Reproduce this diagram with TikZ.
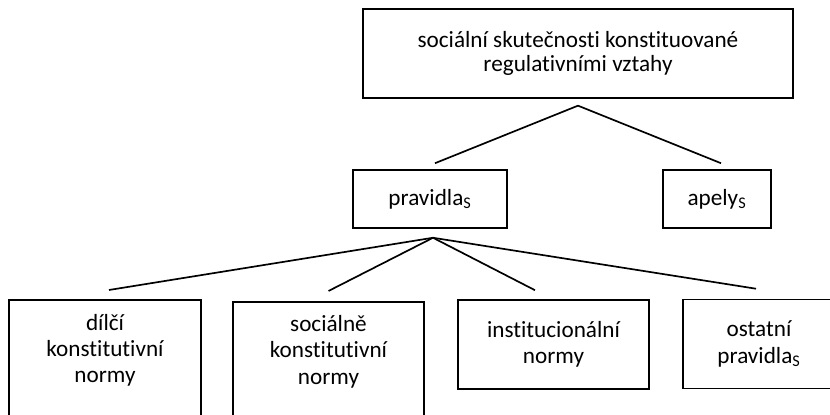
\documentclass[tikz,border=0pt]{standalone}
\usepackage{fontspec}
\setmainfont{Carlito}[Ligatures={NoCommon}]
\usetikzlibrary{calc}

\begin{document}
\begin{tikzpicture}[
  box/.style={draw=black,line width=1.1pt,align=center,inner sep=0pt,font=\fontsize{16.5}{18.7}\selectfont},
  link/.style={draw=black,line width=1.2pt}]
\useasboundingbox (0,0) rectangle (20.75,10.375);
\clip (0,0) rectangle (20.75,10.375);
% the boxes
\node[box,minimum width=10.75cm,minimum height=2.225cm,font=\fontsize{16.5}{16.8}\selectfont] (soc) at (14.45,9.04) {sociální skutečnosti konstituované\\regulativními vztahy};
\node[box,minimum width=3.85cm,minimum height=1.45cm] (prav) at (10.75,5.4) {pravidla\textsubscript{S}};
\node[box,minimum width=2.7cm,minimum height=1.45cm] (apely) at (17.925,5.4) {apely\textsubscript{S}};
\node[box,minimum width=4.8cm,inner ysep=0.36cm,anchor=north] (dilci) at (2.625,2.9) {dílčí\\konstitutivní\\normy\\~};
\node[box,minimum width=4.775cm,inner ysep=0.34cm,anchor=north] (socialne) at (8.2125,2.85) {sociálně\\konstitutivní\\normy\\~};
\node[box,minimum width=4.775cm,minimum height=2.225cm] (inst) at (13.8375,1.7625) {institucionální\\normy};
\node[box,minimum width=3.8cm,minimum height=2.225cm] (ostatni) at (18.975,1.775) {ostatní\\pravidla\textsubscript{S}};

% the forks
\coordinate (forkA) at ([yshift=-0.175cm]soc.south);
\draw[link] (forkA) -- ([xshift=0.125cm,yshift=0.15cm]prav.north);
\draw[link] (forkA) -- ([xshift=0.1cm,yshift=0.15cm]apely.north);

\coordinate (forkB) at ([xshift=0.075cm,yshift=-0.225cm]prav.south);
\draw[link] (forkB) -- ([xshift=0.1cm,yshift=0.225cm]dilci.north);
\draw[link] (forkB) -- ([yshift=0.25cm]socialne.north);
\draw[link] (forkB) -- ([xshift=-0.4625cm,yshift=0.225cm]inst.north);
\draw[link] (forkB) -- ([xshift=-0.075cm,yshift=0.25cm]ostatni.north);
\end{tikzpicture}
\end{document}
